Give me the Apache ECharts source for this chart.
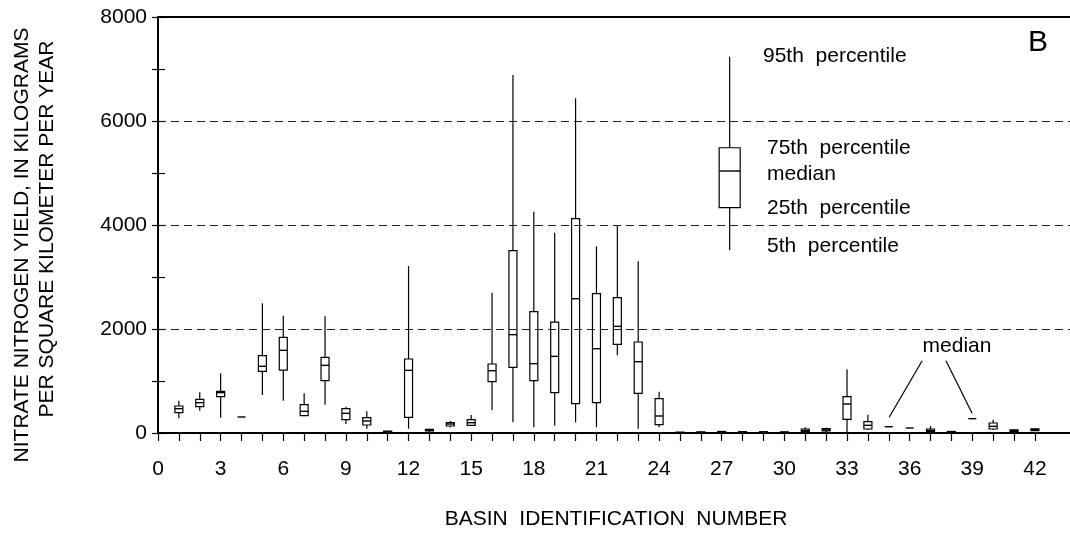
<!DOCTYPE html>
<html>
<head>
<meta charset="utf-8">
<script src="https://cdn.jsdelivr.net/npm/echarts@6/dist/echarts.min.js"></script>
<style>
html,body{margin:0;padding:0;background:#fff;}
#chart{width:1070px;height:534px;}
</style>
</head>
<body>
<div id="chart"></div>
<script>
// ---- data (nitrate nitrogen yield, kg/km2/yr) ----
const basinIds = [1,2,3,4,5,6,7,8,9,10,11,12,13,14,15,16,17,18,19,20,21,22,23,24,25,26,27,28,29,30,31,32,33,34,35,36,37,38,39,40,41,42];
const p5  = [282,429,295,308,731,622,333,545,173,83,0,83,20,110,135,442,205,109,141,205,109,1494,83,109,0,0,0,0,0,0,10,20,0,58,121,96,0,0,276,58,30,50];
const p25 = [390,506,698,308,1186,1211,333,1006,256,154,8,302,40,135,148,987,1263,1006,775,563,583,1705,763,160,2,3,8,5,5,2,25,40,263,77,121,96,25,10,276,77,35,55];
const p50 = [468,583,776,308,1283,1590,417,1301,379,231,20,1205,55,173,198,1198,1891,1333,1474,2583,1621,2051,1371,327,5,8,20,15,15,8,50,60,558,148,121,96,50,20,276,128,42,62];
const p75 = [519,648,802,308,1487,1840,545,1455,468,295,35,1423,70,198,256,1327,3506,2333,2134,4121,2679,2602,1750,660,8,12,30,25,25,12,77,85,698,217,121,96,77,30,276,192,50,70];
const p95 = [622,782,1148,308,2494,2256,763,2244,506,417,45,3212,80,231,346,2698,6884,4256,3852,6436,3589,3987,3301,795,10,15,35,30,40,15,109,100,1225,352,121,96,135,35,276,256,55,77];

// explanation (legend) box: position on basin axis and its percentiles
const legendX = 27.38;
const legendStats = [3519, 4333, 5038, 5486, 7236];

// axis ticks / labels
const xTicks = Array.from({length: 43}, (_, i) => i);          // 0..42
const xLabels = [0,3,6,9,12,15,18,21,24,27,30,33,36,39,42];
const yTicks = [0,1000,2000,3000,4000,5000,6000,7000,8000];
const yLabels = [0,2000,4000,6000,8000];
const refLines = [2000,4000,6000];

// "median" pointer lines [x1,y1,x2,y2] in data units
const medianPointers = [[35.02,302,36.6,1390],[38.99,379,37.74,1390]];

const FONT = '"Liberation Sans", Arial, Helvetica, sans-serif';

const boxData = basinIds.map((b,i) => [b, p5[i], p25[i], p50[i], p75[i], p95[i]]);
const legendData = [[legendX].concat(legendStats)];

function makeRender(halfW) {
  return function (params, api) {
    const x = api.value(0);
    const pMin = api.coord([x, api.value(1)]);
    const pQ1 = api.coord([x, api.value(2)]);
    const pMed = api.coord([x, api.value(3)]);
    const pQ3 = api.coord([x, api.value(4)]);
    const pMax = api.coord([x, api.value(5)]);
    const cx = pMed[0];
    const st = {stroke: '#000', lineWidth: 1.2, fill: null};
    const ch = [];
    if (pMax[1] < pQ3[1] - 0.3) ch.push({type: 'line', shape: {x1: cx, y1: pQ3[1], x2: cx, y2: pMax[1]}, style: st});
    if (pMin[1] > pQ1[1] + 0.3) ch.push({type: 'line', shape: {x1: cx, y1: pQ1[1], x2: cx, y2: pMin[1]}, style: st});
    const h = pQ1[1] - pQ3[1];
    if (h > 0.8) {
      ch.push({type: 'rect', shape: {x: cx - halfW, y: pQ3[1], width: 2 * halfW, height: h},
               style: {stroke: '#000', lineWidth: 1.2, fill: 'none'}});
    } else if (h > 0.01) {
      ch.push({type: 'rect', shape: {x: cx - halfW, y: pQ3[1] - 0.5, width: 2 * halfW, height: h + 1},
               style: {stroke: '#000', lineWidth: 1.2, fill: '#000'}});
    }
    ch.push({type: 'line', shape: {x1: cx - halfW, y1: pMed[1], x2: cx + halfW, y2: pMed[1]}, style: {stroke: '#000', lineWidth: 1.4}});
    return {type: 'group', children: ch};
  };
}

const chart = echarts.init(document.getElementById('chart'), null, {renderer: 'canvas'});

const txt = (text, x, y, opts) => Object.assign({
  type: 'text', x: x, y: y, silent: true,
  style: Object.assign({text: text, font: '21px ' + FONT, fill: '#000', align: 'left', verticalAlign: 'middle'}, (opts && opts.style) || {})
}, opts && opts.rotation !== undefined ? {rotation: opts.rotation} : {});

const X_MAX = 43.68;
const option = {
  animation: false,
  backgroundColor: '#fff',
  grid: {left: 158, top: 17, width: 912, height: 416, containLabel: false},
  xAxis: [{
    type: 'value', min: 0, max: X_MAX, position: 'bottom',
    axisLine: {show: true, onZero: false, lineStyle: {color: '#000', width: 2}},
    axisTick: {show: true, inside: false, length: 8, customValues: xTicks, lineStyle: {color: '#000', width: 1.2}},
    axisLabel: {show: true, customValues: xLabels, margin: 26, fontSize: 21, fontFamily: FONT, color: '#000', formatter: v => String(v)},
    splitLine: {show: false}
  }, {
    type: 'value', min: 0, max: X_MAX, position: 'top',
    axisLine: {show: true, onZero: false, lineStyle: {color: '#000', width: 2}},
    axisTick: {show: false}, axisLabel: {show: false}, splitLine: {show: false}
  }],
  yAxis: [{
    type: 'value', min: 0, max: 8000, interval: 1000, position: 'left',
    axisLine: {show: true, onZero: false, lineStyle: {color: '#000', width: 2}},
    axisTick: {show: true, inside: true, length: 7, customValues: yTicks, lineStyle: {color: '#000', width: 1.2}},
    axisLabel: {show: true, customValues: yLabels, margin: 11, fontSize: 21, fontFamily: FONT, color: '#000', formatter: v => String(v)},
    splitLine: {show: false}
  }, {
    type: 'value', min: 0, max: 8000, interval: 1000, position: 'right',
    axisLine: {show: false},
    axisTick: {show: true, inside: true, length: 6, customValues: yTicks, lineStyle: {color: '#000', width: 1.2}},
    axisLabel: {show: false}, splitLine: {show: false}
  }],
  series: [{
    type: 'custom', name: 'basins', xAxisIndex: 0, yAxisIndex: 0,
    renderItem: makeRender(4),
    encode: {x: 0, y: [1, 2, 3, 4, 5]},
    data: boxData,
    clip: false,
    markLine: {
      silent: true, symbol: 'none', animation: false,
      label: {show: false},
      lineStyle: {type: [8, 5], color: '#222', width: 1.2},
      data: refLines.map(v => ({yAxis: v})).concat(
        medianPointers.map(p => [
          {coord: [p[0], p[1]], lineStyle: {type: 'solid', color: '#000', width: 1.2}},
          {coord: [p[2], p[3]]}
        ]))
    }
  }, {
    type: 'custom', name: 'explanation', xAxisIndex: 0, yAxisIndex: 0,
    renderItem: makeRender(10.5),
    encode: {x: 0, y: [1, 2, 3, 4, 5]},
    data: legendData,
    clip: false
  }],
  graphic: [
    txt('B', 1038, 43, {style: {font: '30px ' + FONT, align: 'center'}}),
    txt('95th  percentile', 763, 56),
    txt('75th  percentile', 767, 148),
    txt('median', 767, 174),
    txt('25th  percentile', 767, 208),
    txt('5th  percentile', 767, 246),
    txt('median', 957, 346, {style: {align: 'center'}}),
    txt('BASIN  IDENTIFICATION  NUMBER', 616, 519, {style: {align: 'center'}}),
    txt('NITRATE NITROGEN YIELD, IN KILOGRAMS', 22, 245, {rotation: Math.PI / 2, style: {align: 'center'}}),
    txt('PER SQUARE KILOMETER PER YEAR', 47, 229, {rotation: Math.PI / 2, style: {align: 'center'}})
  ]
};

chart.setOption(option);
</script>
</body>
</html>
